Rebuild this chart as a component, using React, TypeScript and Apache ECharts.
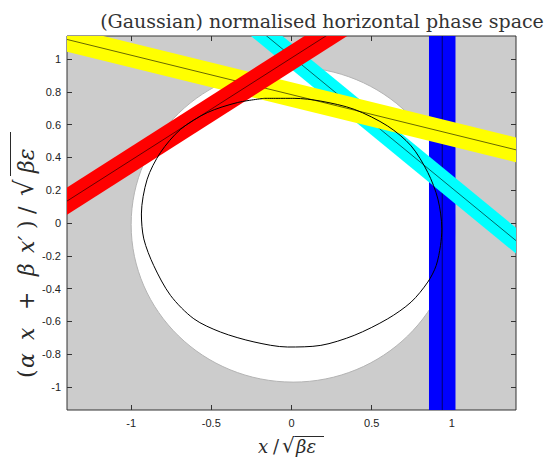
import React, { useEffect, useRef } from "react";
import * as echarts from "echarts";

// ---- data ----
const xTicks = [-1, -0.5, 0, 0.5, 1];
const yTicks = [-1, -0.8, -0.6, -0.4, -0.2, 0, 0.2, 0.4, 0.6, 0.8, 1];
const xRange = [-1.4, 1.4];
const yRange = [-1.14, 1.14];

// white acceptance region: centre and radii (data units)
const whiteCentre = [0.01, -0.01];
const whiteRadii = [1.01, 0.96];

// bands: centre-line end points (data units) [x1, y1, x2, y2]
const blueLine = [0.94, -1.3, 0.94, 1.3];
const cyanLine = [-0.5, 1.417, 1.6, -0.268];
const yellowLine = [-1.6, 1.167, 1.6, 0.398];
const redLine = [-1.6, 0.009, 0.8, 1.505];

// black (measured) phase-space contour
const contour = [
  [-0.171, 0.76], [0.016, 0.76], [0.183, 0.743], [0.391, 0.693], [0.6, 0.591],
  [0.746, 0.47], [0.85, 0.308], [0.913, 0.146], [0.9375, -0.036], [0.929, -0.138],
  [0.902, -0.26], [0.85, -0.36], [0.746, -0.482], [0.6, -0.584], [0.391, -0.685],
  [0.183, -0.746], [-0.025, -0.756], [-0.234, -0.725], [-0.442, -0.665], [-0.609, -0.584],
  [-0.754, -0.442], [-0.859, -0.26], [-0.921, -0.097], [-0.936, 0.055], [-0.9, 0.267],
  [-0.817, 0.43], [-0.692, 0.571], [-0.525, 0.673], [-0.338, 0.734], [-0.171, 0.76],
];

const titleText = "(Gaussian) normalised horizontal phase space";

function bandSeries(line: number[], color: string, width: number) {
  return {
    type: "custom",
    silent: true,
    clip: true,
    encode: { x: [0, 2], y: [1, 3] },
    data: [line],
    renderItem: (params: any, api: any) => {
      const p1 = api.coord([api.value(0), api.value(1)]);
      const p2 = api.coord([api.value(2), api.value(3)]);
      const dx = p2[0] - p1[0];
      const dy = p2[1] - p1[1];
      const len = Math.hypot(dx, dy) || 1;
      const nx = (-dy / len) * (width / 2);
      const ny = (dx / len) * (width / 2);
      return {
        type: "group",
        children: [
          {
            type: "polygon",
            shape: {
              points: [
                [p1[0] + nx, p1[1] + ny],
                [p2[0] + nx, p2[1] + ny],
                [p2[0] - nx, p2[1] - ny],
                [p1[0] - nx, p1[1] - ny],
              ],
            },
            style: { fill: color },
          },
          {
            type: "line",
            shape: { x1: p1[0], y1: p1[1], x2: p2[0], y2: p2[1] },
            style: { stroke: "#000", lineWidth: 0.6 },
          },
        ],
      };
    },
  };
}

const ink = "#2a2a2a";
const mathFont = (size: number, italic = true) =>
  `${italic ? "italic " : ""}${size}px 'DejaVu Serif', serif`;

function piece(text: string, x: number, y: number, font: string) {
  return {
    type: "text",
    x,
    y,
    style: { text, fill: ink, font, textVerticalAlign: "middle", textAlign: "left" },
  };
}

export default function App() {
  const ref = useRef<HTMLDivElement>(null);
  useEffect(() => {
    if (!ref.current) return;
    const chart = echarts.init(ref.current, undefined, { renderer: "svg" });
    const tickStyle = { inside: true, length: 5, lineStyle: { color: "#333", width: 1 } };
    const labelStyle = {
      color: "#222",
      fontSize: 11,
      fontFamily: "Liberation Sans, Arial, sans-serif",
    };
    const base = {
      type: "value",
      axisLine: { show: false, onZero: false },
      splitLine: { show: false },
    };

    // y-label pieces, positioned along the rotated baseline (distance from its start)
    const yPieces: [string, number, boolean][] = [
      ["(", 0, false],
      ["α", 10, true],
      ["x", 38, true],
      ["+", 68, false],
      ["β", 102, true],
      ["x′", 125, true],
      [")", 149, false],
      ["/", 164, false],
      ["√", 182, false],
      ["βε", 205, true],
    ];

    chart.setOption({
      animation: false,
      backgroundColor: "#fff",
      grid: {
        left: 67,
        right: 32,
        top: 36,
        bottom: 49,
        show: true,
        backgroundColor: "#cccccc",
        borderColor: "#333",
        borderWidth: 1,
        outerBoundsMode: "none",
        containLabel: false,
      },
      xAxis: [
        {
          ...base,
          position: "bottom",
          min: xRange[0],
          max: xRange[1],
          axisTick: { ...tickStyle, customValues: xTicks },
          axisLabel: { ...labelStyle, margin: 7, customValues: xTicks },
        },
        {
          ...base,
          position: "top",
          min: xRange[0],
          max: xRange[1],
          axisTick: { ...tickStyle, customValues: xTicks },
          axisLabel: { show: false },
        },
      ],
      yAxis: [
        {
          ...base,
          position: "left",
          min: yRange[0],
          max: yRange[1],
          axisTick: { ...tickStyle, customValues: yTicks },
          axisLabel: { ...labelStyle, margin: 6, customValues: yTicks },
        },
        {
          ...base,
          position: "right",
          min: yRange[0],
          max: yRange[1],
          axisTick: { ...tickStyle, customValues: yTicks },
          axisLabel: { show: false },
        },
      ],
      series: [
        {
          type: "custom",
          silent: true,
          clip: true,
          encode: { x: 0, y: 1 },
          data: [[whiteCentre[0], whiteCentre[1], whiteRadii[0], whiteRadii[1]]],
          renderItem: (params: any, api: any) => {
            const c = api.coord([api.value(0), api.value(1)]);
            const rx = api.size([api.value(2), 0])[0];
            const ry = api.size([0, api.value(3)])[1];
            return {
              type: "ellipse",
              shape: { cx: c[0], cy: c[1], rx, ry },
              style: { fill: "#ffffff", stroke: "#b4b4b4", lineWidth: 1 },
            };
          },
        },
        bandSeries(blueLine, "#0000ff", 26.5),
        bandSeries(cyanLine, "#00ffff", 20),
        bandSeries(yellowLine, "#ffff00", 24),
        bandSeries(redLine, "#ff0000", 23),
        {
          type: "line",
          data: contour,
          showSymbol: false,
          symbol: "none",
          smooth: 0.3,
          clip: true,
          silent: true,
          lineStyle: { color: "#000", width: 1 },
        },
      ],
      graphic: [
        {
          type: "text",
          x: 322,
          y: 21,
          style: {
            text: titleText,
            fill: "#333",
            font: "19px 'DejaVu Serif', serif",
            textAlign: "center",
            textVerticalAlign: "middle",
          },
        },
        // x-axis label:  x / sqrt(beta epsilon)
        piece("x", 258, 446, mathFont(18)),
        piece("/", 273, 446, mathFont(18, false)),
        piece("√", 282, 445, "20px 'DejaVu Serif', serif"),
        piece("βε", 296, 446, mathFont(18)),
        {
          type: "line",
          shape: { x1: 295, y1: 436.5, x2: 324, y2: 436.5 },
          style: { stroke: ink, lineWidth: 1 },
        },
        // y-axis label, rotated: (alpha x + beta x') / sqrt(beta epsilon)
        {
          type: "group",
          x: 26,
          y: 378,
          rotation: Math.PI / 2,
          children: [
            ...yPieces.map(([t, d, it]) =>
              t === "√"
                ? piece(t, d, -2, "26px 'DejaVu Serif', serif")
                : piece(t, d, 0, mathFont(22, it))
            ),
            {
              type: "line",
              shape: { x1: 202, y1: -15.5, x2: 246, y2: -15.5 },
              style: { stroke: ink, lineWidth: 1 },
            },
          ],
        },
      ],
    });
    return () => chart.dispose();
  }, []);
  return (
    <div
      ref={ref}
      style={{ position: "fixed", left: 0, top: 0, width: 548, height: 459 }}
    />
  );
}
